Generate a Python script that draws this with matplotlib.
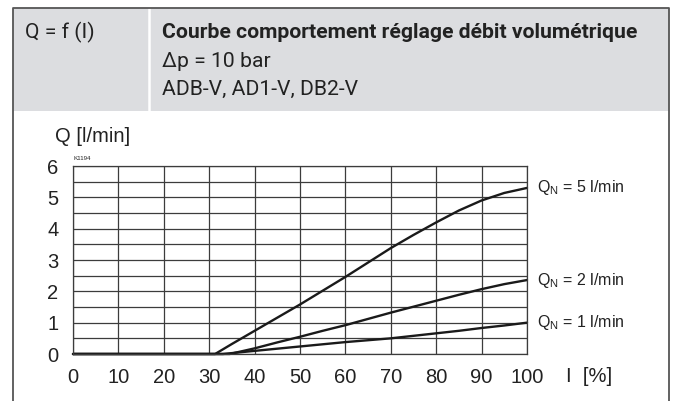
import numpy as np
import matplotlib
matplotlib.use("Agg")
import matplotlib.pyplot as plt
from matplotlib.patches import Rectangle
from matplotlib.lines import Line2D

# valeurs (I en %, Q en l/min)
i_q5 = [0, 31.3, 35, 40, 45, 50, 55, 60, 65, 70, 75, 80, 85, 90, 95, 100]
q5 = [0, 0, 0.32, 0.74, 1.16, 1.58, 2.02, 2.46, 2.92, 3.38, 3.8, 4.2, 4.58, 4.9, 5.14, 5.3]
i_q2 = [0, 34.5, 40, 45, 50, 55, 60, 65, 70, 75, 80, 85, 90, 95, 100]
q2 = [0, 0, 0.18, 0.37, 0.55, 0.74, 0.92, 1.12, 1.32, 1.51, 1.70, 1.89, 2.07, 2.23, 2.36]
i_q1 = [0, 33, 40, 45, 50, 55, 60, 65, 70, 75, 80, 85, 90, 95, 100]
q1 = [0, 0, 0.1, 0.17, 0.24, 0.31, 0.38, 0.44, 0.5, 0.58, 0.66, 0.74, 0.83, 0.91, 1.0]
curve_labels = ["Q$_\\mathregular{N}$ = 5 l/min", "Q$_\\mathregular{N}$ = 2 l/min",
                "Q$_\\mathregular{N}$ = 1 l/min"]
x_ticks = [0, 10, 20, 30, 40, 50, 60, 70, 80, 90, 100]
y_ticks = [0, 1, 2, 3, 4, 5, 6]

W, H = 676, 401
fig = plt.figure(figsize=(W / 100, H / 100), dpi=100)
plt.rcParams['font.family'] = ['Liberation Sans', 'DejaVu Sans']
cond = ['Roboto', 'DejaVu Sans']


def fx(px):
    return px / W


def fy(py):
    return 1 - py / H


# cadre + bandeau gris
bg = fig.add_axes([0, 0, 1, 1], zorder=-5)
bg.set_xlim(0, W)
bg.set_ylim(H, 0)
bg.axis("off")
bg.add_patch(Rectangle((13, 8), 656, 103, color="#dcdde0", lw=0))
bg.add_line(Line2D([149, 149], [8, 111], color="white", lw=1.8))
bg.add_line(Line2D([13, 13, 669, 669], [401, 8, 8, 401], color="#555555", lw=1.3))

hs = 15.2
fig.text(fx(25), fy(38), "Q = f (I)", family=cond, fontsize=hs, color="#222222")
fig.text(fx(162), fy(38), "Courbe comportement réglage débit volumétrique",
         family=cond, fontsize=hs, fontweight="bold", color="#222222")
fig.text(fx(162), fy(67), "Δp = 10 bar", family=cond, fontsize=hs, color="#222222")
fig.text(fx(162), fy(95), "ADB-V, AD1-V, DB2-V", family=cond, fontsize=hs, color="#222222")

ax = fig.add_axes([fx(73), fy(354), fx(527) - fx(73), fy(166) - fy(354)])
ax.set_xlim(0, 100)
ax.set_ylim(0, 6)
ax.set_xticks(x_ticks)
ax.set_yticks(y_ticks)
ax.set_yticks(np.arange(0, 6.01, 0.5), minor=True)
ax.grid(True, which="both", color="#3c3c3c", lw=0.9)
ax.tick_params(which="both", length=0)
ax.tick_params(axis="x", pad=10, labelsize=14.5, colors="#222222")
ax.tick_params(axis="y", pad=10.5, labelsize=14.5, colors="#222222")
for s in ax.spines.values():
    s.set_color("#3c3c3c")
    s.set_linewidth(0.9)

for xs, ys in [(i_q5, q5), (i_q2, q2), (i_q1, q1)]:
    ax.plot(xs, ys, color="#1a1a1a", lw=1.7, solid_capstyle="round", clip_on=False)

for lab, y_end in zip(curve_labels, [q5[-1], q2[-1], q1[-1]]):
    ax.annotate(lab, xy=(100, y_end), xytext=(7, 0), textcoords="offset points",
                va="center", ha="left", fontsize=11.5, color="#222222")

fig.text(fx(55), fy(136), "Q [l/min]", fontsize=14.5, va="center", color="#222222")
fig.text(fx(566), fy(377), "I  [%]", fontsize=14.5, va="center", color="#222222")
fig.text(fx(73), fy(158), "K1194", fontsize=4.5, va="center", color="#222222")

fig.savefig("out.png", dpi=100)
